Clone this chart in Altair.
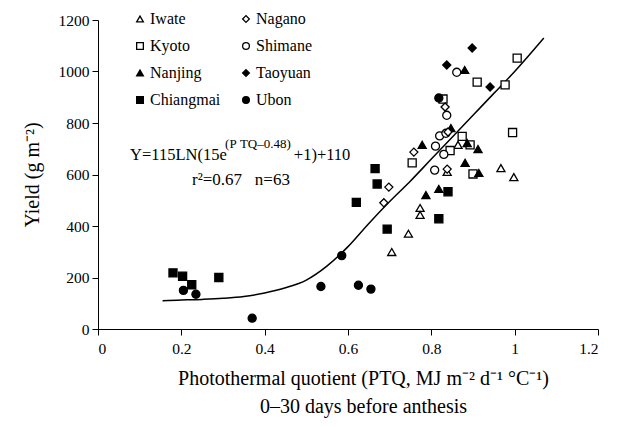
import altair as alt
import pandas as pd

# ---- data ----
# legend lays out column by column: first column then second column
series_order = ["Iwate", "Kyoto", "Nanjing", "Chiangmai", "Nagano", "Shimane", "Taoyuan", "Ubon"]
shapes = ["triangle-up", "square", "triangle-up", "square", "diamond", "circle", "diamond", "circle"]
fills = ["white", "white", "black", "black", "white", "white", "black", "black"]

iwate_x = [0.705, 0.745, 0.773, 0.773, 0.838, 0.864, 0.967, 0.998]
iwate_y = [299, 370, 470, 443, 610, 715, 625, 590]

kyoto_x = [0.754, 0.828, 0.845, 0.874, 0.893, 0.900, 0.910, 0.977, 0.995, 1.006]
kyoto_y = [645, 893, 693, 748, 715, 602, 959, 948, 763, 1052]

nanjing_x = [0.787, 0.818, 0.778, 0.847, 0.880, 0.886, 0.912, 0.881, 0.914]
nanjing_y = [520, 544, 715, 780, 1006, 722, 699, 645, 606]

taoyuan_x = [0.837, 0.898, 0.941]
taoyuan_y = [1025, 1091, 940]

chiangmai_x = [0.180, 0.203, 0.225, 0.290, 0.620, 0.665, 0.670, 0.694, 0.818, 0.840]
chiangmai_y = [218, 205, 172, 200, 492, 623, 563, 388, 428, 533]

ubon_x = [0.205, 0.235, 0.370, 0.535, 0.585, 0.625, 0.655, 0.818]
ubon_y = [150, 135, 42, 165, 285, 170, 155, 897]

shimane_x = [0.808, 0.810, 0.820, 0.830, 0.835, 0.837, 0.861]
shimane_y = [617, 710, 750, 678, 760, 830, 997]

nagano_x = [0.686, 0.698, 0.758, 0.838, 0.840, 0.833]
nagano_y = [490, 551, 687, 621, 765, 862]

# fitted curve
curve_x = [0.155, 0.19, 0.25, 0.30, 0.35, 0.40, 0.45, 0.50, 0.55, 0.60, 0.65,
           0.70, 0.75, 0.80, 0.85, 0.90, 0.95, 1.00, 1.07]
curve_y = [110, 112, 115, 119, 126, 140, 160, 190, 245, 320, 410,
           495, 575, 660, 745, 830, 915, 1000, 1130]

x_ticks = [0, 0.2, 0.4, 0.6, 0.8, 1.0, 1.2]
y_ticks = [0, 200, 400, 600, 800, 1000, 1200]

# annotation texts
NB = "\u00a0"
eq_main = "Y=115LN(15e"
eq_sup = "(P" + NB + "TQ\u20130.48)"
eq_tail = "+1)+110"
eq_stats = "r\u00b2=0.67" + NB * 3 + "n=63"

FONT = "Liberation Serif"

rows = []
for name, xs, ys in [
    ("Iwate", iwate_x, iwate_y), ("Kyoto", kyoto_x, kyoto_y),
    ("Nanjing", nanjing_x, nanjing_y), ("Taoyuan", taoyuan_x, taoyuan_y),
    ("Chiangmai", chiangmai_x, chiangmai_y), ("Ubon", ubon_x, ubon_y),
    ("Shimane", shimane_x, shimane_y), ("Nagano", nagano_x, nagano_y),
]:
    for a, b in zip(xs, ys):
        rows.append({"ptq": a, "yield": b, "site": name})
pts = pd.DataFrame(rows)
curve = pd.DataFrame({"ptq": curve_x, "yield": curve_y})

xscale = alt.Scale(domain=[0, 1.2], nice=False, zero=False)
yscale = alt.Scale(domain=[0, 1200], nice=False)

xaxis = alt.Axis(
    values=x_ticks, format=".1~f", grid=False,
    title=["Photothermal quotient (PTQ, MJ m\u207b\u00b2 d\u207b\u00b9 \u00b0C\u207b\u00b9)",
           "0\u201330 days before anthesis"],
    titleFontSize=20, titleLineHeight=28, titlePadding=12, titleX=265,
    labelFontSize=15.5, labelPadding=6,
)
yaxis = alt.Axis(
    values=y_ticks, format="d", grid=False, title="Yield (g m\u207b\u00b2)",
    titleFontSize=20, titlePadding=16,
    labelFontSize=15.5, labelPadding=3,
)

site_scale_shape = alt.Scale(domain=series_order, range=shapes)
site_scale_fill = alt.Scale(domain=series_order, range=fills)
site_scale_stroke = alt.Scale(domain=series_order, range=["black"] * len(series_order))

leg = alt.Legend(title=None, orient="none", legendX=34, legendY=-9,
                 columns=2, columnPadding=17, rowPadding=11,
                 labelFont=FONT, labelFontSize=16, labelColor="black",
                 labelOffset=2, symbolSize=45, symbolStrokeWidth=1.3, padding=0)

points = alt.Chart(pts).mark_point(
    filled=True, strokeWidth=1.3, opacity=1, size=65
).encode(
    x=alt.X("ptq:Q", scale=xscale, axis=xaxis),
    y=alt.Y("yield:Q", scale=yscale, axis=yaxis),
    shape=alt.Shape("site:N", scale=site_scale_shape, legend=leg),
    fill=alt.Fill("site:N", scale=site_scale_fill, legend=leg),
    stroke=alt.Stroke("site:N", scale=site_scale_stroke, legend=leg),
)

line = alt.Chart(curve).mark_line(color="black", strokeWidth=1.5, interpolate="monotone").encode(
    x=alt.X("ptq:Q", scale=xscale),
    y=alt.Y("yield:Q", scale=yscale),
)

ann = pd.DataFrame({
    "ptq": [0.077, 0.305, 0.470, 0.2256],
    "yield": [656, 702, 656, 559],
    "txt": [eq_main, eq_sup, eq_tail, eq_stats],
    "fs": [16.5, 13, 16.5, 17],
})
texts = alt.Chart(ann).mark_text(align="left", baseline="alphabetic", font=FONT, color="black").encode(
    x=alt.X("ptq:Q", scale=xscale),
    y=alt.Y("yield:Q", scale=yscale),
    text="txt:N",
    size=alt.Size("fs:Q", scale=None, legend=None),
)

chart = alt.layer(line, points, texts).properties(
    width=500, height=309,
    background="white",
    autosize=alt.AutoSizeParams(type="none"),
    padding={"left": 90, "top": 12, "right": 16, "bottom": 90},
).configure(
    font=FONT,
    style={"guide-label": {"font": FONT}, "guide-title": {"font": FONT}},
).configure_view(stroke=None).configure_axis(
    domainColor="black", tickColor="black", labelColor="black", titleColor="black",
    labelFont=FONT, titleFont=FONT, titleFontWeight="normal", tickSize=6,
).configure_legend(
    labelFont=FONT, labelFontSize=16, labelColor="black"
)

chart.save("out.html", embed_options={"renderer": "svg", "actions": False})
